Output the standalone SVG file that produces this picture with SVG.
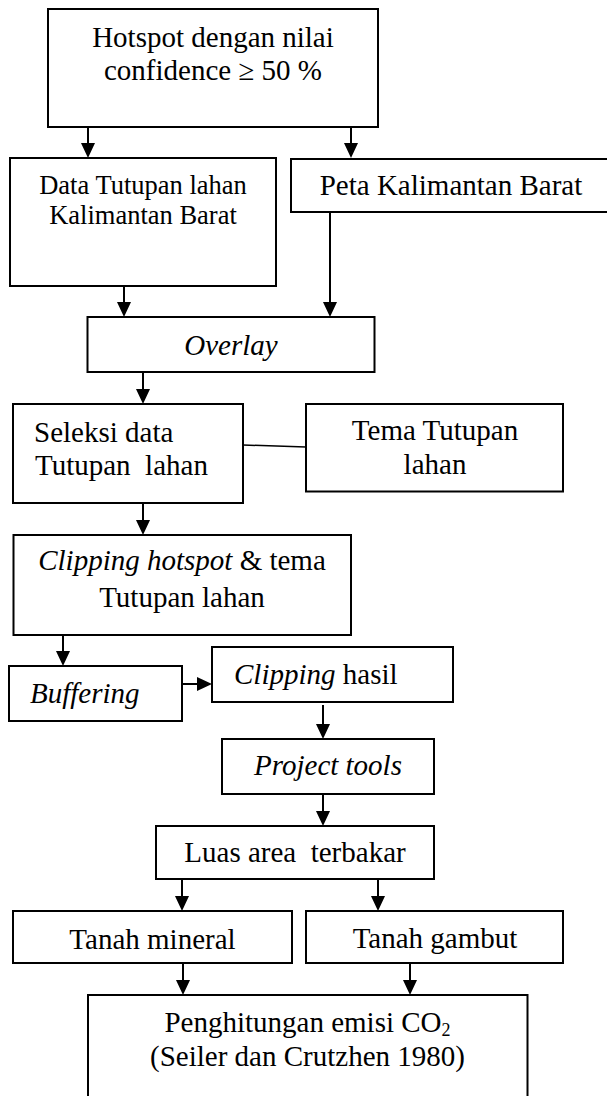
<svg xmlns="http://www.w3.org/2000/svg" width="607" height="1096" viewBox="0 0 607 1096">
<style>
.box{fill:#fff;stroke:#000;stroke-width:2}
.t{font-family:"Liberation Serif","Times New Roman",serif;font-size:29px;fill:#000}
.s{font-size:26.5px}
.c{text-anchor:middle}
.i{font-style:italic}
.con{fill:none;stroke:#000;stroke-width:2}
.thin{stroke-width:1.5}
</style>
<defs>
<marker id="ah" markerUnits="userSpaceOnUse" markerWidth="15" markerHeight="14" refX="11" refY="7" orient="auto">
<path d="M0,0 L15,7 L0,14 z" fill="#000"/>
</marker>
</defs>
<rect width="607" height="1096" fill="#fff"/>

<g id="n-hotspot">
<rect class="box" x="48" y="9" width="330" height="118"/>
<text class="t c" x="213" y="47">Hotspot dengan nilai</text>
<text class="t c" x="213" y="80">confidence ≥ 50 %</text>
</g>

<g id="n-data">
<rect class="box" x="10" y="158" width="266" height="128"/>
<text class="t s c" x="143" y="193.5">Data Tutupan lahan</text>
<text class="t s c" x="143" y="224">Kalimantan Barat</text>
</g>

<g id="n-peta">
<rect class="box" x="291" y="159" width="320" height="53"/>
<text class="t c" x="451" y="195">Peta Kalimantan Barat</text>
</g>

<g id="n-overlay">
<rect class="box" x="87.5" y="317" width="287" height="55"/>
<text class="t c i" x="231" y="355">Overlay</text>
</g>

<g id="n-seleksi">
<rect class="box" x="13" y="404" width="230" height="99"/>
<text class="t" x="34" y="442">Seleksi data</text>
<text class="t" x="35" y="475" xml:space="preserve">Tutupan  lahan</text>
</g>

<g id="n-tema">
<rect class="box" x="306" y="404" width="257" height="87.5"/>
<text class="t c" x="435" y="440">Tema Tutupan</text>
<text class="t c" x="435" y="473.5">lahan</text>
</g>

<g id="n-clipping-hotspot">
<rect class="box" x="13.5" y="535" width="337.5" height="100"/>
<text class="t c" x="182" y="570"><tspan class="i">Clipping hotspot</tspan> &amp; tema</text>
<text class="t c" x="182" y="606.5">Tutupan lahan</text>
</g>

<g id="n-buffering">
<rect class="box" x="9" y="666" width="173" height="55"/>
<text class="t i" x="30" y="703">Buffering</text>
</g>

<g id="n-clipping-hasil">
<rect class="box" x="212" y="647" width="241" height="55"/>
<text class="t" x="234" y="684"><tspan class="i">Clipping</tspan> hasil</text>
</g>

<g id="n-project">
<rect class="box" x="222" y="739" width="212" height="55"/>
<text class="t c i" x="328" y="775">Project tools</text>
</g>

<g id="n-luas">
<rect class="box" x="156" y="826" width="278" height="53"/>
<text class="t c" x="295" y="862" xml:space="preserve">Luas area  terbakar</text>
</g>

<g id="n-mineral">
<rect class="box" x="13" y="911" width="279" height="52"/>
<text class="t c" x="152.5" y="949">Tanah mineral</text>
</g>

<g id="n-gambut">
<rect class="box" x="306" y="911" width="257" height="52"/>
<text class="t c" x="435" y="948">Tanah gambut</text>
</g>

<g id="n-emisi">
<rect class="box" x="88" y="995" width="439.5" height="110"/>
<text class="t c" x="307.5" y="1032">Penghitungan emisi CO<tspan font-size="18" dy="4">2</tspan></text>
<text class="t c" x="307.5" y="1066">(Seiler dan Crutzhen 1980)</text>
</g>

<g id="connectors">
<path class="con" d="M88,127 V154" marker-end="url(#ah)"/>
<path class="con" d="M351,127 V154" marker-end="url(#ah)"/>
<path class="con" d="M124,286 V313" marker-end="url(#ah)"/>
<path class="con" d="M330,212 V313" marker-end="url(#ah)"/>
<path class="con" d="M143,372 V400" marker-end="url(#ah)"/>
<path class="con thin" d="M243,445 L306,447"/>
<path class="con" d="M143,503 V531" marker-end="url(#ah)"/>
<path class="con" d="M63,635 V662" marker-end="url(#ah)"/>
<path class="con" d="M182,684 H208" marker-end="url(#ah)"/>
<path class="con" d="M323,705 V735" marker-end="url(#ah)"/>
<path class="con" d="M323,794 V822" marker-end="url(#ah)"/>
<path class="con" d="M182,879 V907" marker-end="url(#ah)"/>
<path class="con" d="M378,879 V907" marker-end="url(#ah)"/>
<path class="con" d="M183,963 V991" marker-end="url(#ah)"/>
<path class="con" d="M410,963 V991" marker-end="url(#ah)"/>
</g>
</svg>
